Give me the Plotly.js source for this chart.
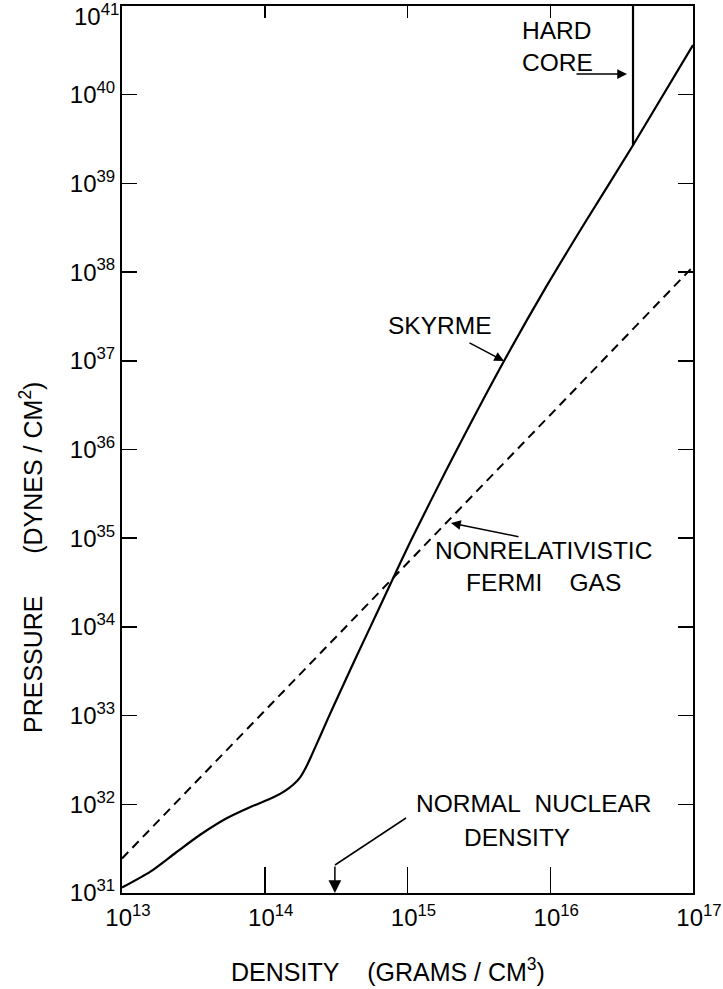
<!DOCTYPE html>
<html>
<head>
<meta charset="utf-8">
<script src="https://cdn.plot.ly/plotly-3.0.1.min.js"></script>
<style>
  html, body { margin: 0; padding: 0; background: #fff; }
  #chart { width: 723px; height: 989px; }
</style>
</head>
<body>
<div id="chart"></div>
<script>
// ---- data ----
const skyrmeDensity = [1e13, 1.58e13, 2.4e13, 3.55e13, 5.37e13, 7.94e13, 1.15e14, 1.38e14, 1.58e14, 1.78e14,
  1.95e14, 2.14e14, 2.51e14, 3.02e14, 4.37e14, 6.46e14, 8.32e14, 1.07e15, 1.86e15, 4.68e15, 9.33e15,
  1.74e16, 3.8e16, 1e17];
const skyrmePressure = [1.15e31, 1.74e31, 2.88e31, 4.57e31, 6.92e31, 9.33e31, 1.2e32, 1.41e32, 1.66e32, 2.04e32,
  2.63e32, 3.63e32, 6.46e32, 1.26e33, 4.57e33, 1.74e34, 4.17e34, 9.77e34, 5.75e35, 9.55e36, 6.76e37,
  3.55e38, 2.69e39, 3.63e40];

const fermiDensity = [1e13, 1e14, 1e15, 1e16, 1e17];
const fermiPressure = [2.45e31, 1.15e33, 5.25e34, 2.45e36, 1.15e38];

const hardCoreDensity = [3.8e16, 3.8e16];
const hardCorePressure = [2.69e39, 1e41];

const normalNuclearDensity = 3.1e14;

const yTickVals = [1e31, 1e32, 1e33, 1e34, 1e35, 1e36, 1e37, 1e38, 1e39, 1e40, 1e41];
const yTickText = ['10<sup>31</sup>', '10<sup>32</sup>', '10<sup>33</sup>', '10<sup>34</sup>', '10<sup>35</sup>',
  '10<sup>36</sup>', '10<sup>37</sup>', '10<sup>38</sup>', '10<sup>39</sup>', '10<sup>40</sup>', '10<sup>41</sup>'];
const xTickVals = [1e13, 1e14, 1e15, 1e16, 1e17];
const xTickText = ['10<sup>13</sup>', '10<sup>14</sup>', '10<sup>15</sup>', '10<sup>16</sup>', '10<sup>17</sup>'];

// ---- layout helpers (pixel -> paper) ----
const L = 122, R = 693, T = 6, B = 893;
const px = X => (X - L) / (R - L);
const py = Y => (B - Y) / (B - T);

const FONT = 'Liberation Sans, Arial, sans-serif';
const NB = '\u00A0';
const sp = n => NB.repeat(n);

// the top tick label would be cut by the page edge, so it is drawn as an annotation just below
const topIdx = yTickText.length - 1;
const yAxisText = yTickText.map((t, i) => (i === topIdx ? '' : t));

const traces = [
  { x: fermiDensity, y: fermiPressure, mode: 'lines', type: 'scatter',
    line: { color: '#000', width: 2, dash: '9px,6px' }, hoverinfo: 'skip' },
  { x: skyrmeDensity, y: skyrmePressure, mode: 'lines', type: 'scatter',
    line: { color: '#000', width: 2.2, shape: 'spline', smoothing: 0.7 }, hoverinfo: 'skip' },
  { x: hardCoreDensity, y: hardCorePressure, xaxis: 'x2', yaxis: 'y', mode: 'lines', type: 'scatter',
    line: { color: '#000', width: 2.2 }, hoverinfo: 'skip' }
];

const annFont = { family: FONT, size: 24.5, color: '#000' };
const titleFont = { family: FONT, size: 25, color: '#000' };

const layout = {
  width: 723, height: 989,
  margin: { l: L, r: 723 - R, t: T, b: 989 - B, pad: 0 },
  paper_bgcolor: '#fff', plot_bgcolor: '#fff',
  showlegend: false,
  font: { family: FONT, color: '#000' },
  xaxis: {
    type: 'log', range: [13, 17], showgrid: false, zeroline: false,
    showline: true, linecolor: '#000', linewidth: 2, mirror: true,
    ticks: 'inside', ticklen: 26, tickwidth: 1.5, tickcolor: '#000',
    tickvals: xTickVals, ticktext: xTickText, ticklabelshift: 6, ticklabelstandoff: 2,
    ticklabeloverflow: 'allow',
    tickfont: { family: FONT, size: 24, color: '#000' }
  },
  xaxis2: {
    type: 'log', range: [13, 17], overlaying: 'x', side: 'top', anchor: 'y',
    showgrid: false, zeroline: false, showline: false,
    ticks: 'inside', ticklen: 12, tickwidth: 1.5, tickcolor: '#000',
    tickvals: xTickVals, showticklabels: false
  },
  yaxis: {
    type: 'log', range: [31, 41], showgrid: false, zeroline: false,
    showline: true, linecolor: '#000', linewidth: 2, mirror: 'ticks',
    ticks: 'inside', ticklen: 15, tickwidth: 1.5, tickcolor: '#000',
    tickvals: yTickVals, ticktext: yAxisText, ticklabelstandoff: 0,
    ticklabeloverflow: 'allow',
    tickfont: { family: FONT, size: 24, color: '#000' }
  },
  annotations: [
    { text: yTickText[topIdx], xref: 'paper', yref: 'y', x: 0, y: Math.log10(yTickVals[topIdx]),
      xanchor: 'right', yanchor: 'top', xshift: -1, yshift: 8, showarrow: false,
      font: { family: FONT, size: 24, color: '#000' } },
    { text: 'DENSITY' + sp(4) + '(GRAMS' + sp(1) + '/' + sp(1) + 'CM<sup>3</sup>)', xref: 'paper', yref: 'paper',
      x: px(388), y: py(970), xanchor: 'center', yanchor: 'middle', showarrow: false, font: titleFont },
    { text: 'PRESSURE' + sp(6) + '(DYNES' + sp(1) + '/' + sp(1) + 'CM<sup>2</sup>)', xref: 'paper', yref: 'paper',
      x: px(31), y: py(558), xanchor: 'center', yanchor: 'middle', showarrow: false, textangle: -90,
      font: titleFont },
    { text: 'HARD<br>CORE', xref: 'paper', yref: 'paper', x: px(520), y: py(47),
      xanchor: 'left', yanchor: 'middle', align: 'left', showarrow: false, font: annFont },
    { text: 'SKYRME', xref: 'paper', yref: 'paper', x: px(386), y: py(325),
      xanchor: 'left', yanchor: 'middle', showarrow: false, font: annFont },
    { text: 'NONRELATIVISTIC<br>FERMI' + sp(4) + 'GAS', xref: 'paper', yref: 'paper', x: px(543), y: py(566),
      xanchor: 'center', yanchor: 'middle', align: 'center', showarrow: false, font: annFont },
    { text: 'NORMAL' + sp(2) + 'NUCLEAR', xref: 'paper', yref: 'paper', x: px(534), y: py(803),
      xanchor: 'center', yanchor: 'middle', showarrow: false, font: annFont },
    { text: 'DENSITY', xref: 'paper', yref: 'paper', x: px(517), y: py(837),
      xanchor: 'center', yanchor: 'middle', showarrow: false, font: annFont },
    // arrows
    { text: '', xref: 'paper', yref: 'paper', x: px(627), y: py(74), ax: -52, ay: 0,
      showarrow: true, arrowhead: 2, arrowsize: 1.3, arrowwidth: 1.5, arrowcolor: '#000' },
    { text: '', xref: 'paper', yref: 'paper', x: px(504), y: py(361), ax: -36, ay: -19,
      showarrow: true, arrowhead: 2, arrowsize: 1.3, arrowwidth: 1.5, arrowcolor: '#000' },
    { text: '', xref: 'paper', yref: 'paper', x: px(451), y: py(523), ax: 69, ay: 14,
      showarrow: true, arrowhead: 2, arrowsize: 1.3, arrowwidth: 1.5, arrowcolor: '#000' },
    { text: '', xref: 'x', yref: 'paper', x: Math.log10(normalNuclearDensity), y: 0, ax: 0, ay: -28,
      showarrow: true, arrowhead: 2, arrowsize: 1.7, arrowwidth: 1.5, arrowcolor: '#000' }
  ],
  shapes: [
    { type: 'line', xref: 'paper', yref: 'paper', x0: px(406), y0: py(818), x1: px(335), y1: py(865),
      line: { color: '#000', width: 1.5 } }
  ]
};

Plotly.newPlot('chart', traces, layout, { staticPlot: true, displayModeBar: false });
</script>
</body>
</html>
